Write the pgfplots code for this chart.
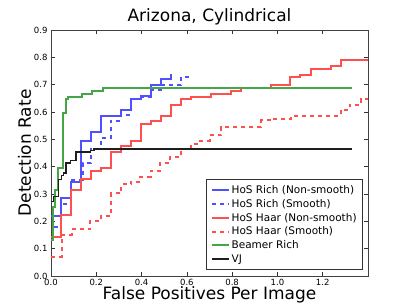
\documentclass[border=0pt]{standalone}
\usepackage{fontspec}
\setmainfont{DejaVu Sans}
\usepackage{pgfplots}
\pgfplotsset{compat=1.18}
\definecolor{cblue}{RGB}{80,80,255}
\definecolor{cred}{RGB}{255,80,80}
\definecolor{cgreen}{RGB}{70,165,70}
\definecolor{cblack}{RGB}{30,30,30}
\begin{document}
\begin{tikzpicture}
\begin{axis}[
  at={(0,0)}, anchor=south west,
  scale only axis, width=317pt, height=246pt,
  xmin=0, xmax=1.40, ymin=0, ymax=0.9,
  xtick={0,0.2,...,1.2}, ytick={0,0.1,...,0.9},
  tick align=inside, xtick pos=both, ytick pos=both,
  major tick length=4pt,
  tick style={black!80, line width=0.5pt},
  axis line style={black!75, line width=0.9pt},
  /pgf/number format/assume math mode=true,
  /pgf/number format/.cd, fixed, fixed zerofill, precision=1, /pgfplots/.cd,
  tick label style={font=\fontsize{8.5}{9}\selectfont},
  title={Arizona, Cylindrical},
  title style={font=\fontsize{17}{18}\selectfont, yshift=-5pt},
  xlabel={False Positives Per Image},
  ylabel={Detection Rate},
  xlabel style={font=\fontsize{17}{18}\selectfont, yshift=6pt},
  ylabel style={font=\fontsize{17}{18}\selectfont, yshift=-4pt},
  legend style={at={(rel axis cs:1,0)}, anchor=south east, xshift=-5pt, yshift=6pt,
    font=\fontsize{10.5}{14.6}\selectfont, draw=black!80, line width=0.8pt,
    row sep=0.3pt, inner xsep=4pt, inner ysep=4pt},
  legend cell align=left,
  legend image code/.code={\draw[#1] (0cm,0cm) -- (0.6cm,0cm);},
]
\addplot[const plot, draw=cblue, line width=2pt] coordinates {(0,0.22)(0.043,0.284)(0.087,0.345)(0.133,0.495)(0.175,0.526)(0.221,0.587)(0.308,0.609)(0.353,0.648)(0.399,0.658)(0.442,0.697)(0.486,0.719)(0.529,0.739)(0.529,0.739)};
\addlegendentry{HoS Rich (Non-smooth)}
\addplot[const plot, draw=cblue, line width=2pt, dash pattern=on 4pt off 4pt] coordinates {(0.015,0.18)(0.043,0.264)(0.087,0.352)(0.14,0.413)(0.175,0.465)(0.221,0.505)(0.265,0.568)(0.308,0.59)(0.353,0.646)(0.399,0.656)(0.442,0.68)(0.486,0.697)(0.573,0.728)(0.625,0.728)};
\addlegendentry{HoS Rich (Smooth)}
\addplot[const plot, draw=cred, line width=2pt] coordinates {(0,0.141)(0.043,0.222)(0.087,0.314)(0.133,0.354)(0.175,0.384)(0.221,0.394)(0.265,0.453)(0.308,0.474)(0.353,0.495)(0.399,0.556)(0.442,0.566)(0.486,0.587)(0.529,0.626)(0.573,0.647)(0.62,0.656)(0.708,0.667)(0.796,0.677)(0.84,0.687)(0.972,0.697)(1.057,0.729)(1.1,0.737)(1.148,0.758)(1.237,0.768)(1.28,0.789)(1.40,0.789)};
\addlegendentry{HoS Haar (Non-smooth)}
\addplot[const plot, draw=cred, line width=2pt, dash pattern=on 4pt off 4pt] coordinates {(0,0.071)(0.047,0.15)(0.091,0.171)(0.172,0.202)(0.223,0.221)(0.267,0.303)(0.311,0.336)(0.355,0.344)(0.395,0.364)(0.44,0.385)(0.483,0.415)(0.527,0.436)(0.576,0.465)(0.62,0.484)(0.66,0.495)(0.70,0.515)(0.752,0.545)(0.928,0.569)(0.972,0.576)(1.06,0.587)(1.28,0.609)(1.32,0.627)(1.37,0.648)(1.40,0.648)};
\addlegendentry{HoS Haar (Smooth)}
\addplot[const plot, draw=cgreen, line width=2pt] coordinates {(0,0.132)(0.01,0.252)(0.019,0.313)(0.032,0.395)(0.054,0.597)(0.065,0.646)(0.077,0.655)(0.135,0.666)(0.18,0.677)(0.23,0.687)(1.328,0.687)};
\addlegendentry{Beamer Rich}
\addplot[const plot, draw=cblack, line width=1.3pt] coordinates {(0,0.273)(0.01,0.291)(0.032,0.352)(0.047,0.367)(0.054,0.377)(0.066,0.413)(0.087,0.423)(0.11,0.454)(0.175,0.46)(0.19,0.465)(1.328,0.465)};
\addlegendentry{VJ}
\end{axis}
\pgfresetboundingbox
\path[use as bounding box] (-51pt,-31pt) rectangle (358pt,276pt);
\end{tikzpicture}
\end{document}
